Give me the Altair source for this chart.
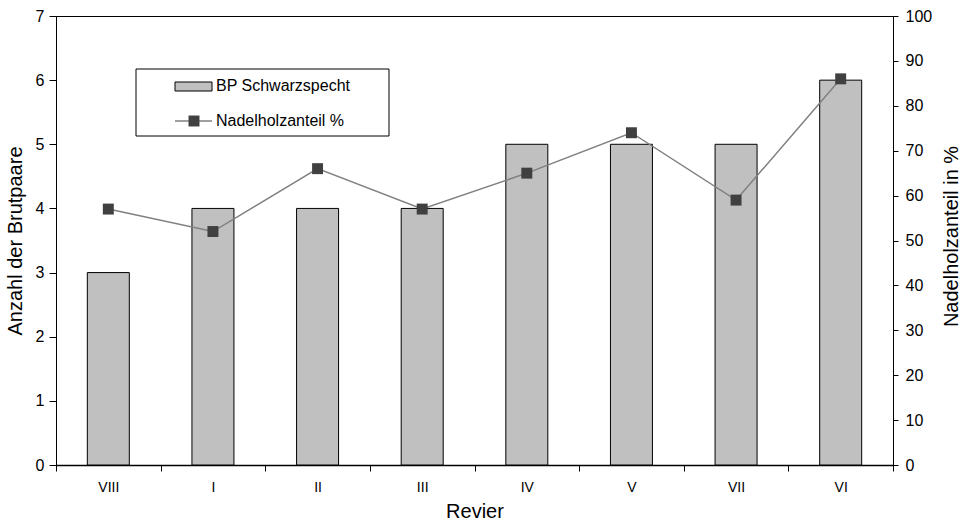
import altair as alt
import pandas as pd

reviere = ["VIII", "I", "II", "III", "IV", "V", "VII", "VI"]
brutpaare = [3, 4, 4, 4, 5, 5, 5, 6]
nadelholz = [57, 52, 66, 57, 65, 74, 59, 86]

df = pd.DataFrame({"Revier": reviere, "BP": brutpaare, "Nadel": nadelholz})
one = pd.DataFrame({"k": [0]})

FONT = "Liberation Sans"

x_enc = alt.X("Revier:N", sort=reviere, title="Revier",
              scale=alt.Scale(paddingInner=0, paddingOuter=0),
              axis=alt.Axis(tickBand="extent", labelAngle=0, labelFontSize=14,
                            labelPadding=9, titleFontSize=20, titlePadding=7,
                            tickSize=6, domainWidth=1.5))

bars = alt.Chart(df).mark_bar(size=42, fill="#c0c0c0", stroke="#000000",
                              strokeWidth=1).encode(
    x=x_enc,
    y=alt.Y("BP:Q", title="Anzahl der Brutpaare",
            scale=alt.Scale(domain=[0, 7]),
            axis=alt.Axis(orient="left", values=list(range(0, 8)), tickSize=7,
                          labelFontSize=16, labelPadding=5, titleFontSize=20,
                          titlePadding=10, grid=False))
)

line = alt.Chart(df).mark_line(color="#808080", strokeWidth=1.5).encode(
    x=alt.X("Revier:N", sort=reviere),
    y=alt.Y("Nadel:Q", title="Nadelholzanteil in %",
            scale=alt.Scale(domain=[0, 100]),
            axis=alt.Axis(orient="right", values=list(range(0, 101, 10)),
                          tickSize=5, labelFontSize=16, labelPadding=7,
                          titleFontSize=20, titlePadding=30, titleAngle=270,
                          titleY=220, grid=False))
)

points = alt.Chart(df).mark_point(shape="square", filled=True, size=120,
                                  color="#404040", opacity=1).encode(
    x=alt.X("Revier:N", sort=reviere),
    y=alt.Y("Nadel:Q", scale=alt.Scale(domain=[0, 100]), axis=None)
)

# manual legend
leg_box = alt.Chart(one).mark_rect(fill="white", stroke="black", strokeWidth=1).encode(
    x=alt.value(80), x2=alt.value(333), y=alt.value(53), y2=alt.value(120))
leg_sw = alt.Chart(one).mark_rect(fill="#c0c0c0", stroke="black", strokeWidth=1).encode(
    x=alt.value(119), x2=alt.value(156), y=alt.value(66), y2=alt.value(75))
leg_line = alt.Chart(one).mark_rule(color="#808080", strokeWidth=1.5).encode(
    x=alt.value(119), x2=alt.value(156), y=alt.value(105))
leg_pt = alt.Chart(one).mark_point(shape="square", filled=True, size=120,
                                   color="#404040", opacity=1).encode(
    x=alt.value(138), y=alt.value(105))
leg_t1 = alt.Chart(one).mark_text(text="BP Schwarzspecht", align="left",
                                  baseline="middle", fontSize=16, font=FONT,
                                  color="black").encode(
    x=alt.value(160), y=alt.value(70))
leg_t2 = alt.Chart(one).mark_text(text="Nadelholzanteil %", align="left",
                                  baseline="middle", fontSize=16, font=FONT,
                                  color="black").encode(
    x=alt.value(160), y=alt.value(105))

chart = alt.layer(
    bars, line, points, leg_box, leg_sw, leg_line, leg_pt, leg_t1, leg_t2
).resolve_scale(y="independent").properties(
    width=837, height=449,
    autosize=alt.AutoSizeParams(type="none"),
    padding={"left": 56, "top": 16, "right": 73, "bottom": 60},
    background="white",
).configure_view(stroke="black", strokeWidth=1).configure_axis(
    labelFont=FONT, titleFont=FONT, labelColor="black", titleColor="black",
    domainColor="black", tickColor="black", titleFontWeight="normal",
)

chart.save("out.html", embed_options={"renderer": "svg", "actions": False})
